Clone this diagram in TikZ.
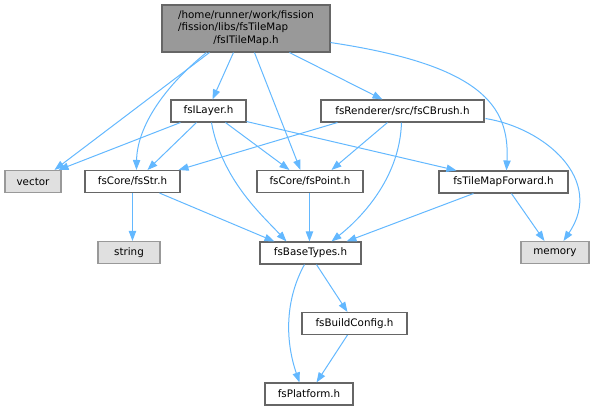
\documentclass[tikz,border=0pt]{standalone}
\usepackage{fontspec}
\setmainfont{DejaVu Sans}
\usetikzlibrary{arrows.meta,calc}
\definecolor{edgeblue}{HTML}{63B8FF}
\definecolor{boxborder}{HTML}{666666}
\definecolor{mainfill}{HTML}{999999}
\definecolor{extfill}{HTML}{E0E0E0}
\definecolor{extborder}{HTML}{999999}
\begin{document}
\begin{tikzpicture}[x=0.75pt,y=-0.75pt,
  font=\fontsize{7.75}{9.3}\selectfont,
  filebox/.style={draw=boxborder,fill=white,line width=0.8pt,inner sep=0pt,minimum height=16.5pt},
  extbox/.style={draw=extborder,fill=extfill,line width=0.8pt,inner sep=0pt,minimum height=16.5pt},
  mainbox/.style={draw=boxborder,fill=mainfill,line width=0.8pt,inner sep=0pt,minimum width=126pt,minimum height=35.25pt},
  dep/.style={draw=edgeblue,line width=0.75pt,-{Triangle[length=7.5pt,width=5.5pt]}}]
\useasboundingbox (0,0) rectangle (593,411);
\node[mainbox] (main) at (246,28.5) {\begin{tabular}{@{}l@{}}/home/runner/work/fission\\/fission/libs/fsTileMap\\\multicolumn{1}{@{}c@{}}{/fsITileMap.h}\end{tabular}};
\node[filebox,minimum width=56.25pt] (ilayer) at (208.5,111) {fsILayer.h};
\node[filebox,minimum width=122.25pt] (cbrush) at (402.5,111) {fsRenderer/src/fsCBrush.h};
\node[extbox,minimum width=42pt] (vector) at (33,181.5) {vector};
\node[filebox,minimum width=71.25pt] (fsstr) at (132.5,181.5) {fsCore/fsStr.h};
\node[filebox,minimum width=79.5pt] (fspoint) at (310,181.5) {fsCore/fsPoint.h};
\node[filebox,minimum width=96.75pt] (tmf) at (503.5,182) {fsTileMapForward.h};
\node[extbox,minimum width=46.5pt] (string) at (129,252.5) {string};
\node[filebox,minimum width=75.75pt] (basetypes) at (310.5,253) {fsBaseTypes.h};
\node[extbox,minimum width=51pt] (memory) at (555,252.5) {memory};
\node[filebox,minimum width=78.75pt] (buildcfg) at (354.5,323.5) {fsBuildConfig.h};
\node[filebox,minimum width=66pt] (platform) at (309,394) {fsPlatform.h};

\draw[dep] ($(main.south west)+(48,0)$) -- ($(vector.north west)+(50,0)$);
\draw[dep] ($(main.south west)+(45,0)$) .. controls (160,90) and (137,130) .. ($(fsstr.north west)+(52,0)$);
\draw[dep] ($(main.south west)+(72,0)$) -- ($(ilayer.north west)+(42,0)$);
\draw[dep] ($(main.south west)+(93,0)$) -- ($(fspoint.north west)+(44,0)$);
\draw[dep] ($(main.south west)+(128,0)$) -- ($(cbrush.north west)+(62,0)$);
\draw[dep] ($(main.south east)+(0,-10)$) .. controls (480,65) and (510,105) .. ($(tmf.north west)+(68,0)$);

\draw[dep] ($(ilayer.south west)+(10,0)$) -- ($(vector.north east)+(-3,0)$);
\draw[dep] ($(ilayer.south west)+(26,0)$) -- ($(fsstr.north west)+(63,0)$);
\draw[dep] ($(ilayer.south west)+(41,0)$) .. controls (222,180) and (262,215) .. ($(basetypes.north west)+(27,0)$);
\draw[dep] ($(ilayer.south west)+(55,0)$) -- ($(fspoint.north west)+(33,0)$);
\draw[dep] ($(ilayer.south east)+(0,-1)$) -- ($(tmf.north west)+(18,0)$);

\draw[dep] ($(cbrush.south west)+(17,0)$) -- ($(fsstr.north east)+(-2,0)$);
\draw[dep] ($(cbrush.south west)+(67,0)$) -- ($(fspoint.north west)+(75,0)$);
\draw[dep] ($(cbrush.south west)+(81,0)$) .. controls (400,175) and (365,215) .. ($(basetypes.north west)+(72,0)$);
\draw[dep] ($(cbrush.south east)+(1,-4)$) .. controls (545,128) and (605,180) .. ($(memory.north west)+(43,0)$);

\draw[dep] ($(fsstr.south west)+(48,0)$) -- ($(string.north west)+(35,0)$);
\draw[dep] ($(fsstr.south west)+(75,0)$) -- ($(basetypes.north west)+(15,0)$);
\draw[dep] ($(fspoint.south west)+(53,0)$) -- ($(basetypes.north west)+(50,0)$);
\draw[dep] ($(tmf.south west)+(35,0)$) -- ($(basetypes.north west)+(87,0)$);
\draw[dep] ($(tmf.south west)+(73,0)$) -- ($(memory.north west)+(24,0)$);

\draw[dep] ($(basetypes.south west)+(57,0)$) -- ($(buildcfg.north west)+(46,0)$);
\draw[dep] ($(basetypes.south west)+(45,0)$) .. controls (285,300) and (285,340) .. ($(platform.north west)+(35,0)$);
\draw[dep] ($(buildcfg.south west)+(46,0)$) -- ($(platform.north west)+(52,0)$);
\end{tikzpicture}
\end{document}
